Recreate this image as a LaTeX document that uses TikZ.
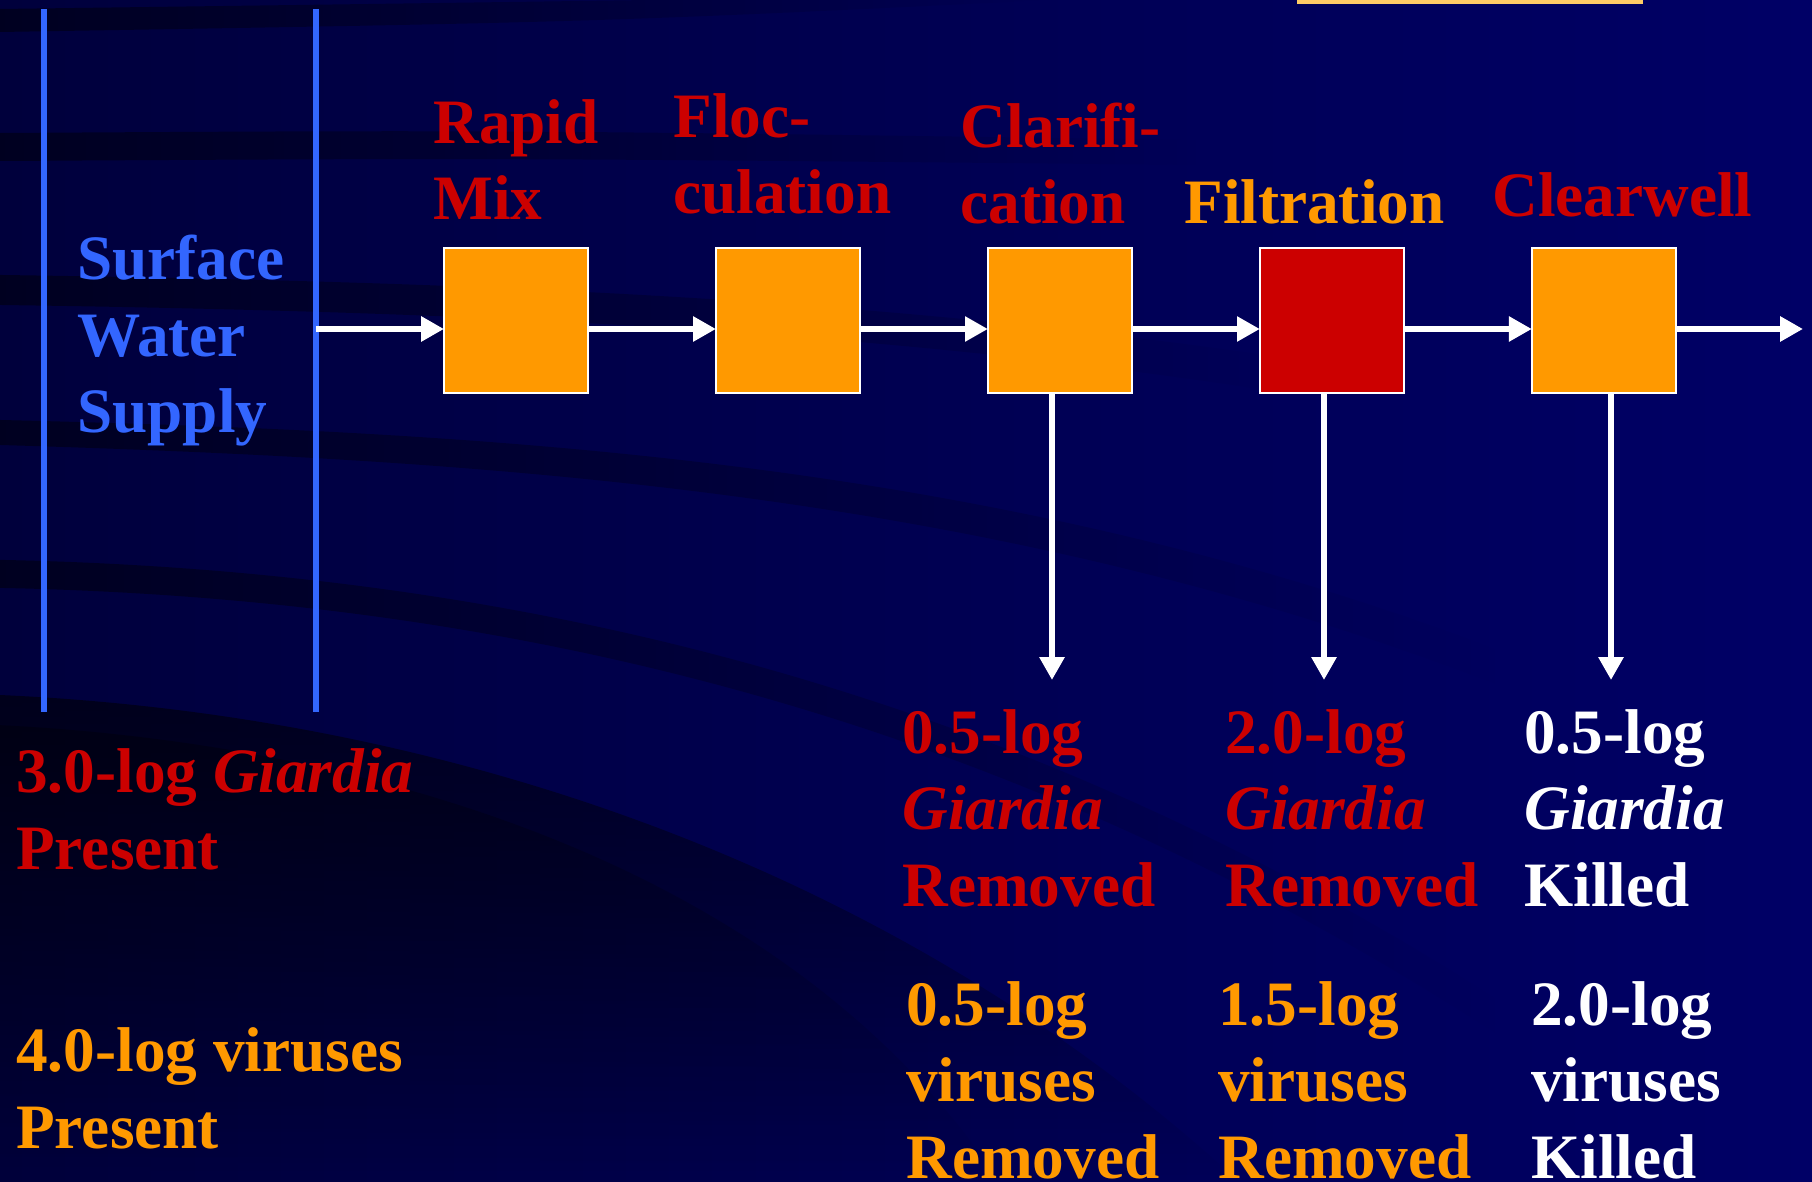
\documentclass[tikz,border=0pt]{standalone}
\usepackage{fontspec}
\setmainfont{Liberation Serif}
\usetikzlibrary{arrows.meta,positioning,fadings}

\definecolor{slidebg}{HTML}{000066}
\definecolor{slidedark}{HTML}{00003C}
\definecolor{supplyblue}{HTML}{3366FF}
\definecolor{steporange}{HTML}{FF9900}
\definecolor{stepred}{HTML}{CC0000}
\definecolor{baryellow}{HTML}{FFCC66}

\tikzfading[name=bandfade, left color=transparent!0, middle color=transparent!15, right color=transparent!100]
\tikzfading[name=downfade, top color=transparent!0, middle color=transparent!65, bottom color=transparent!100]

\begin{document}
\begin{tikzpicture}[
    x=0.02cm, y=-0.02cm,
    node distance=2.56cm,
    txt/.style={font=\fontsize{36}{43.3}\selectfont\bfseries, align=left, inner sep=0pt, anchor=base west},
    unit/.style={rectangle, draw=white, line width=1.2pt, fill=steporange, minimum width=2.88cm, minimum height=2.9cm, inner sep=0pt, outer sep=0pt},
    flow/.style={-{Triangle[length=13pt,width=13.6pt]}, white, line width=3.9pt},
    band/.style={black, opacity=0.45, path fading=bandfade},
    wall/.style={supplyblue, line width=3.4pt},
]
    % slide background
    \useasboundingbox (0,0) rectangle (1812,1182);
    \shade[left color=slidedark, right color=slidebg] (0,0) rectangle (1812,1182);
    \fill[band] (0,9) .. controls (300,5) .. (650,0) -- (1050,0) .. controls (600,22) .. (0,32) -- cycle;
    \fill[band] (0,133) .. controls (500,130) .. (1200,140) -- (1200,165) .. controls (500,158) .. (0,161) -- cycle;
    \fill[band] (0,275) .. controls (500,282) and (900,300) .. (1300,360) -- (1300,395) .. controls (900,332) and (500,312) .. (0,305) -- cycle;
    \fill[band] (0,420) .. controls (500,432) and (1000,460) .. (1500,650) -- (1500,685) .. controls (1000,492) and (500,460) .. (0,445) -- cycle;
    \fill[band] (0,560) .. controls (500,570) and (1000,680) .. (1500,1000) -- (1500,1035) .. controls (1000,710) and (500,598) .. (0,588) -- cycle;
    \fill[black, opacity=0.55, path fading=downfade] (0,695) .. controls (450,715) and (900,870) .. (1240,1182) -- (0,1182) -- cycle;
    \fill[black, opacity=0.3, path fading=downfade] (0,725) .. controls (400,745) and (800,880) .. (1000,1182) -- (0,1182) -- cycle;
    \fill[baryellow] (1297,0) rectangle (1643,4);

    % supply
    \draw[wall] (44,9) -- (44,712);
    \draw[wall] (316,9) -- (316,712);
    \node[txt, supplyblue, font=\fontsize{36}{43.7}\selectfont\bfseries] (sws) at (77,433) {Surface\\Water\\Supply};

    % treatment train
    \node[unit] (rm) at (516,320.5) {};
    \node[unit, right=of rm] (fl) {};
    \node[unit, right=of fl] (cl) {};
    \node[unit, fill=stepred, right=of cl] (fi) {};
    \node[unit, right=of fi] (cw) {};

    \node[txt, stepred] (rmlab) at (433,220) {Rapid\\Mix};
    \node[txt, stepred] (fllab) at (673,214) {Floc-\\culation};
    \node[txt, stepred] (cllab) at (960,224) {Clarifi-\\cation};
    \node[txt, steporange] (filab) at (1184,224) {Filtration};
    \node[txt, stepred] (cwlab) at (1492,217) {Clearwell};

    \coordinate (intake) at (316,329);
    \coordinate (outlet) at (1803,329);
    \draw[flow] (intake) -- (intake -| rm.west);
    \draw[flow] (rm.east |- intake) -- (fl.west |- intake);
    \draw[flow] (fl.east |- intake) -- (cl.west |- intake);
    \draw[flow] (cl.east |- intake) -- (fi.west |- intake);
    \draw[flow] (fi.east |- intake) -- (cw.west |- intake);
    \draw[flow] (cw.east |- intake) -- (outlet);

    % credits
    \coordinate (cldrop) at (1052,680);
    \coordinate (fidrop) at (1324,680);
    \coordinate (cwdrop) at (1611,680);
    \draw[flow] (cl.south -| cldrop) -- (cldrop);
    \draw[flow] (fi.south -| fidrop) -- (fidrop);
    \draw[flow] (cw.south -| cwdrop) -- (cwdrop);

    \node[txt, stepred] (giain) at (16,869) {3.0-log \textit{Giardia}\\Present};
    \node[txt, steporange] (virin) at (16,1148) {4.0-log viruses\\Present};

    \node[txt, stepred] (clgia) at (902,906) {0.5-log\\\textit{Giardia}\\Removed};
    \node[txt, stepred] (figia) at (1225,906) {2.0-log\\\textit{Giardia}\\Removed};
    \node[txt, white] (cwgia) at (1524,906) {0.5-log\\\textit{Giardia}\\Killed};
    \node[txt, steporange] (clvir) at (906,1178) {0.5-log\\viruses\\Removed};
    \node[txt, steporange] (fivir) at (1218,1178) {1.5-log\\viruses\\Removed};
    \node[txt, white] (cwvir) at (1531,1178) {2.0-log\\viruses\\Killed};
\end{tikzpicture}
\end{document}
